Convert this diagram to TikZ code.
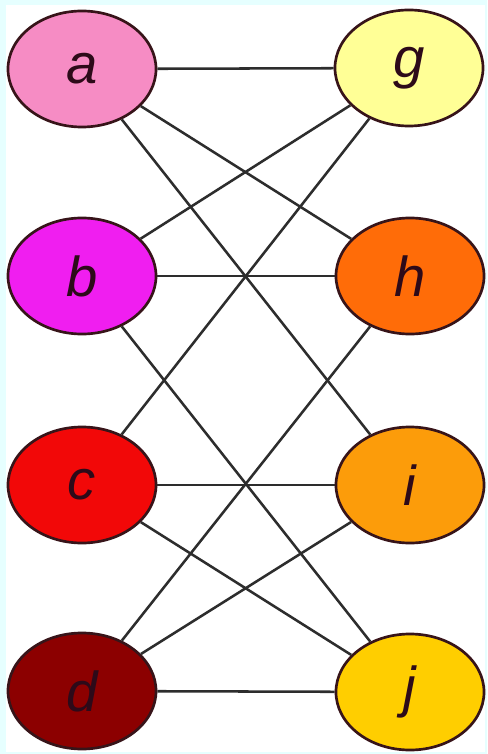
\documentclass[tikz,border=0pt]{standalone}
\usepackage{fontspec}
\setmainfont{Liberation Sans}
\usepackage{tikz}
\usetikzlibrary{shapes.geometric}
\usepackage{xcolor}
\definecolor{frame}{RGB}{230,255,255}
\definecolor{edgegray}{RGB}{45,45,45}
\definecolor{rimdark}{RGB}{55,20,25}
\definecolor{inkdark}{RGB}{45,10,25}
\definecolor{pinka}{RGB}{246,140,196}
\definecolor{magb}{RGB}{240,30,240}
\definecolor{redc}{RGB}{242,8,8}
\definecolor{darkd}{RGB}{140,0,0}
\definecolor{yellg}{RGB}{255,255,150}
\definecolor{orangeh}{RGB}{255,108,8}
\definecolor{orangei}{RGB}{252,156,10}
\definecolor{goldj}{RGB}{255,206,0}

\begin{document}
\begin{tikzpicture}[x=0.025cm, y=-0.025cm,
  vertex/.style={ellipse, draw=rimdark, line width=1.9pt, minimum width=3.7cm,
    minimum height=2.9cm, inner sep=0pt, text=inkdark,
    font=\fontsize{40}{40}\selectfont\itshape},
  link/.style={edgegray, line width=1.8pt}]
  % background with thin frame
  \fill[frame] (0,0) rectangle (487,754);
  \fill[white] (6,5) rectangle (485,752);
  \useasboundingbox (0,0) rectangle (487,754);
  % left column
  \node[vertex, fill=pinka] (a) at (82,69) {a};
  \node[vertex, fill=magb] (b) at (82,276) {b};
  \node[vertex, fill=redc] (c) at (82,485) {c};
  \node[vertex, fill=darkd] (d) at (82,691) {d};
  % right column
  \node[vertex, fill=yellg] (g) at (409,68) {g};
  \node[vertex, fill=orangeh] (h) at (410,276) {h};
  \node[vertex, fill=orangei] (i) at (410,485) {i};
  \node[vertex, fill=goldj] (j) at (410,692) {j};
  % edges
  \foreach \u/\v in {a/g, a/h, a/i, b/g, b/h, b/j, c/g, c/i, c/j, d/h, d/i, d/j}
    \draw[link] (\u) -- (\v);
\end{tikzpicture}
\end{document}
